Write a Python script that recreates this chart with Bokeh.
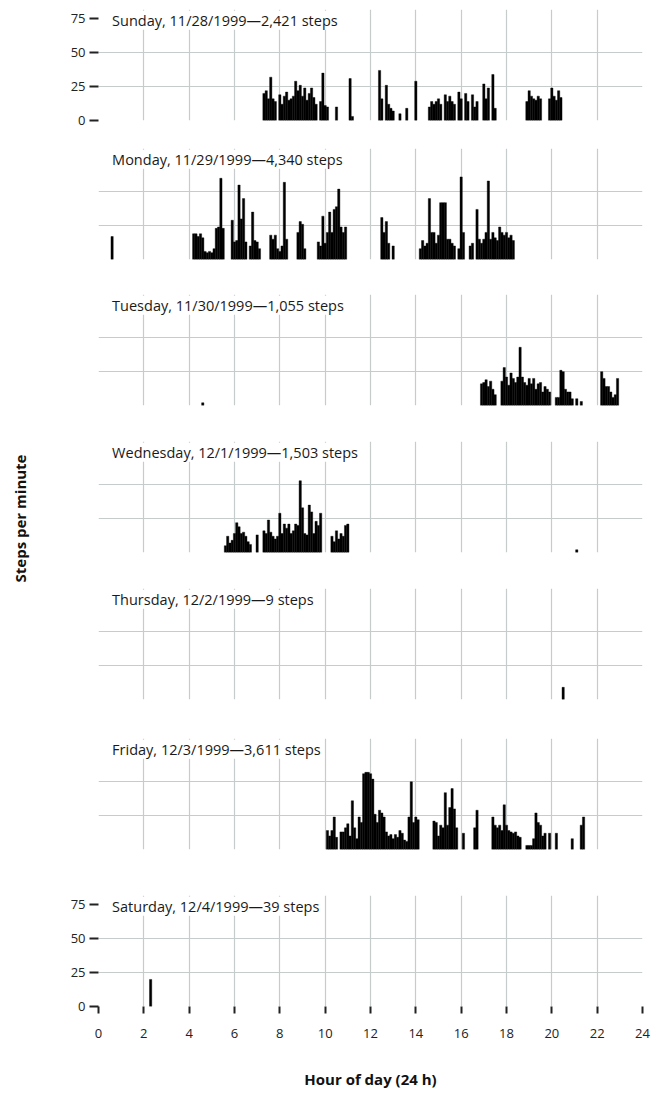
import math
from bokeh.plotting import figure
from bokeh.models import Range1d, FixedTicker, Label
from bokeh.layouts import column, row
from bokeh.embed import file_html
from bokeh.resources import INLINE

# ---------------- data (hour of day, steps per minute) ----------------
day_titles = [
    "Sunday, 11/28/1999\u20142,421 steps",
    "Monday, 11/29/1999\u20144,340 steps",
    "Tuesday, 11/30/1999\u20141,055 steps",
    "Wednesday, 12/1/1999\u20141,503 steps",
    "Thursday, 12/2/1999\u20149 steps",
    "Friday, 12/3/1999\u20143,611 steps",
    "Saturday, 12/4/1999\u201439 steps",
]

sunday = [(7.3, 20), (7.4, 22), (7.5, 16), (7.6, 32), (7.7, 16), (7.8, 14),
          (8.0, 19), (8.1, 12), (8.2, 18), (8.3, 21), (8.4, 15), (8.5, 16),
          (8.6, 18), (8.7, 29), (8.8, 22), (8.9, 26), (9.0, 18), (9.1, 24), (9.2, 15),
          (9.3, 20), (9.4, 24), (9.5, 17), (9.6, 12), (9.8, 14), (9.9, 35), (10.0, 11),
          (10.1, 10), (10.5, 10), (11.1, 31), (11.2, 3),
          (12.4, 37), (12.5, 16), (12.7, 26), (12.8, 12), (12.9, 9), (13.0, 7), (13.3, 5),
          (13.6, 9), (14.0, 29),
          (14.6, 10), (14.7, 14), (14.8, 12), (14.9, 14), (15.0, 16), (15.1, 12), (15.3, 19),
          (15.4, 14), (15.5, 18), (15.6, 14), (15.7, 12), (15.9, 21), (16.0, 16), (16.2, 20),
          (16.3, 14), (16.5, 19), (16.6, 10), (16.7, 14), (17.0, 27), (17.1, 16), (17.2, 24),
          (17.4, 34), (17.5, 9),
          (18.9, 14), (19.0, 22), (19.1, 18), (19.2, 16), (19.3, 15), (19.4, 18), (19.5, 16),
          (19.9, 16), (20.0, 24), (20.1, 18), (20.2, 15), (20.3, 22), (20.4, 17)]

monday = [(0.6, 17),
          (4.2, 19), (4.3, 19), (4.4, 17), (4.5, 19), (4.6, 16), (4.7, 6), (4.8, 5), (4.9, 6),
          (5.0, 5), (5.1, 8), (5.2, 23), (5.3, 24), (5.4, 60), (5.5, 23),
          (5.9, 29), (6.0, 13), (6.1, 14), (6.2, 55), (6.3, 30), (6.4, 45), (6.5, 13),
          (6.7, 10), (6.8, 35), (6.9, 14), (7.0, 13), (7.1, 8),
          (7.6, 18), (7.7, 15), (7.8, 18), (7.9, 8), (8.0, 6), (8.1, 10), (8.2, 57), (8.3, 15),
          (8.8, 20), (8.9, 28), (9.0, 26), (9.1, 8),
          (9.7, 13), (9.8, 10), (9.9, 32), (10.0, 12), (10.1, 20), (10.2, 35), (10.3, 20),
          (10.4, 37), (10.5, 39), (10.6, 52), (10.7, 24), (10.8, 20), (10.9, 24),
          (12.5, 31), (12.6, 20), (12.7, 28), (12.8, 12), (13.0, 10),
          (14.2, 8), (14.3, 14), (14.4, 10), (14.5, 12), (14.6, 45), (14.7, 20), (14.8, 20),
          (14.9, 12), (15.0, 18), (15.1, 42), (15.2, 42), (15.3, 42), (15.4, 15), (15.5, 15),
          (15.6, 12), (15.7, 10), (15.9, 8), (16.0, 61), (16.1, 20), (16.4, 10), (16.5, 12),
          (16.7, 37), (16.8, 15), (16.9, 12), (17.0, 15), (17.1, 20), (17.2, 58), (17.3, 15),
          (17.4, 20), (17.5, 16), (17.6, 14), (17.7, 24), (17.8, 20), (17.9, 18), (18.0, 20),
          (18.1, 16), (18.2, 18), (18.3, 14)]

tuesday = [(4.6, 2),
           (16.9, 16), (17.0, 17), (17.1, 19), (17.2, 14), (17.3, 18), (17.4, 12), (17.5, 8),
           (17.8, 18), (17.9, 28), (18.0, 21), (18.1, 15), (18.2, 24), (18.3, 20), (18.4, 17),
           (18.5, 21), (18.6, 43), (18.7, 21), (18.8, 17), (18.9, 15), (19.0, 20), (19.1, 16),
           (19.2, 20), (19.3, 12), (19.4, 16), (19.5, 17), (19.6, 10), (19.7, 14), (19.8, 12),
           (19.9, 10), (20.2, 6), (20.3, 6), (20.4, 26), (20.5, 25), (20.6, 12), (20.7, 10),
           (20.8, 10), (20.9, 5), (21.1, 5), (21.3, 3),
           (22.2, 25), (22.3, 20), (22.4, 14), (22.5, 14), (22.6, 10), (22.7, 6), (22.8, 8),
           (22.9, 20)]

wednesday = [(5.6, 5), (5.7, 12), (5.8, 7), (5.9, 9), (6.0, 14), (6.1, 22), (6.2, 19),
             (6.3, 14), (6.4, 15), (6.5, 12), (6.6, 8), (6.7, 6), (7.0, 13),
             (7.3, 16), (7.4, 14), (7.5, 24), (7.6, 15), (7.7, 12), (7.8, 10), (7.9, 12),
             (8.0, 29), (8.1, 14), (8.2, 21), (8.3, 18), (8.4, 21), (8.5, 14), (8.6, 16),
             (8.7, 21), (8.8, 20), (8.9, 53), (9.0, 33), (9.1, 14), (9.2, 13), (9.3, 35),
             (9.4, 30), (9.5, 14), (9.6, 23), (9.7, 20), (9.8, 29),
             (10.3, 12), (10.4, 8), (10.5, 16), (10.6, 10), (10.7, 14), (10.8, 12), (10.9, 20),
             (11.0, 21), (21.1, 2)]

thursday = [(20.5, 9)]

friday = [(10.1, 14), (10.2, 10), (10.3, 14), (10.4, 24), (10.5, 9), (10.7, 13), (10.8, 13),
          (10.9, 16), (11.0, 19), (11.1, 10), (11.2, 36), (11.3, 16), (11.4, 8), (11.5, 24),
          (11.6, 20), (11.7, 56), (11.8, 57), (11.9, 57), (12.0, 56), (12.1, 52), (12.2, 26),
          (12.3, 20), (12.4, 29), (12.5, 27), (12.6, 24), (12.7, 13), (12.8, 10), (12.9, 11),
          (13.0, 8), (13.1, 11), (13.2, 9), (13.3, 14), (13.4, 12), (13.5, 7), (13.6, 6),
          (13.7, 24), (13.8, 50), (13.9, 20), (14.0, 24), (14.1, 22),
          (14.8, 21), (14.9, 20), (15.0, 10), (15.1, 18), (15.2, 16), (15.3, 42), (15.4, 18),
          (15.5, 31), (15.6, 45), (15.7, 30), (15.8, 16), (16.1, 12), (16.6, 16), (16.7, 29),
          (17.4, 24), (17.5, 18), (17.6, 16), (17.7, 18), (17.8, 14), (17.9, 33), (18.0, 18),
          (18.1, 14), (18.2, 13), (18.3, 12), (18.4, 13), (18.5, 10), (18.6, 9),
          (18.9, 3), (19.0, 3), (19.1, 3), (19.2, 8), (19.3, 27), (19.4, 20), (19.5, 18),
          (19.6, 10), (19.7, 12), (19.9, 12), (20.2, 12), (20.9, 8), (21.3, 18), (21.4, 24)]

saturday = [(2.3, 20)]

days = [sunday, monday, tuesday, wednesday, thursday, friday, saturday]

x_ticks = [0, 2, 4, 6, 8, 10, 12, 14, 16, 18, 20, 22, 24]
x_grid = [2, 4, 6, 8, 10, 12, 14, 16, 18, 20, 22]
y_ticks = [0, 25, 50, 75]
y_grid = [25, 50]

# ---------------- layout / style ----------------
FONT = "Open Sans"
FRAME_H = 111
Y_TOP = 82
PANEL_W = 622
LABEL_W = 30
tops = [9, 8, 15, 16, 16, 19, 26]
bottoms = [20, 20, 20, 20, 20, 20, 86]
GRID_COLOR = "#c6cbcb"

figs = []
for i, (data, title) in enumerate(zip(days, day_titles)):
    hours = [d[0] for d in data]
    steps = [d[1] for d in data]
    h = tops[i] + FRAME_H + bottoms[i]
    p = figure(width=PANEL_W, height=h, x_range=Range1d(0, 24), y_range=Range1d(0, Y_TOP),
               output_backend="svg", toolbar_location=None,
               min_border_left=68, min_border_right=10,
               min_border_top=tops[i], min_border_bottom=bottoms[i])
    p.outline_line_color = None
    p.background_fill_color = "white"
    p.border_fill_color = "white"

    p.xgrid.ticker = FixedTicker(ticks=x_grid)
    p.ygrid.ticker = FixedTicker(ticks=y_grid)
    for g in (p.xgrid, p.ygrid):
        g.grid_line_color = GRID_COLOR
        g.grid_line_width = 1.2

    p.vbar(x=hours, top=steps, bottom=0, width=0.1,
           fill_color="black", line_color="black", line_width=0.4)

    # y axis only on first and last panel
    p.yaxis.ticker = FixedTicker(ticks=y_ticks)
    p.yaxis.axis_line_color = None
    p.yaxis.major_tick_in = 0
    p.yaxis.major_tick_out = 9
    p.yaxis.major_tick_line_width = 2
    p.yaxis.major_tick_line_color = "#222222"
    p.yaxis.minor_tick_line_color = None
    p.yaxis.major_label_standoff = 4
    p.yaxis.major_label_text_font = FONT
    p.yaxis.major_label_text_font_size = "13px"
    p.yaxis.major_label_text_color = "#222222"
    p.yaxis.visible = (i == 0 or i == len(days) - 1)

    # x axis only on last panel
    p.xaxis.ticker = FixedTicker(ticks=x_ticks)
    p.xaxis.axis_line_color = None
    p.xaxis.major_tick_in = 0
    p.xaxis.major_tick_out = 7
    p.xaxis.major_tick_line_width = 2
    p.xaxis.major_tick_line_color = "#222222"
    p.xaxis.minor_tick_line_color = None
    p.xaxis.major_label_standoff = 15
    p.xaxis.major_label_text_font = FONT
    p.xaxis.major_label_text_font_size = "13px"
    p.xaxis.major_label_text_color = "#222222"
    if i == len(days) - 1:
        p.xaxis.axis_label = "Hour of day (24 h)"
        p.xaxis.axis_label_text_font = FONT
        p.xaxis.axis_label_text_font_size = "15px"
        p.xaxis.axis_label_text_font_style = "bold"
        p.xaxis.axis_label_text_color = "#111111"
        p.xaxis.axis_label_standoff = 28
    else:
        p.xaxis.visible = False

    p.add_layout(Label(x=0.6, y=74, text=title, text_font=FONT, text_font_size="14.5px",
                       text_color="#1a1a1a", text_baseline="middle", text_align="left",
                       background_fill_color="white", background_fill_alpha=1.0))
    figs.append(p)

total_h = sum(tops) + sum(bottoms) + FRAME_H * len(days)
lab = figure(width=LABEL_W, height=total_h, x_range=Range1d(0, 1), y_range=Range1d(0, total_h),
             output_backend="svg", toolbar_location=None, min_border=0)
lab.axis.visible = False
lab.grid.visible = False
lab.outline_line_color = None
lab.background_fill_color = "white"
lab.add_layout(Label(x=0.65, y=total_h - 518, text="Steps per minute", angle=math.pi / 2,
                     text_align="center", text_baseline="middle", text_font=FONT,
                     text_font_size="15px", text_font_style="bold", text_color="#111111"))

layout = row(lab, column(*figs))
open("out.html", "w").write(file_html(layout, INLINE))
